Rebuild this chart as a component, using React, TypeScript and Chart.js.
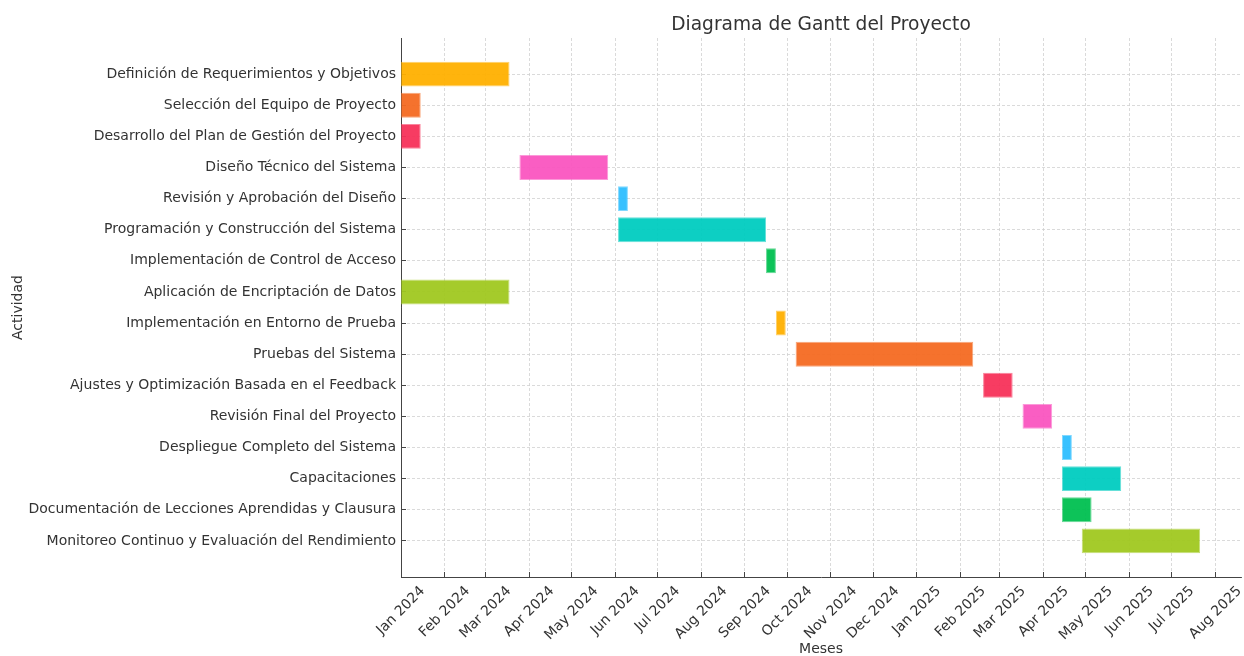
import React, { useEffect, useRef } from 'react';
import { Chart, registerables } from 'chart.js';

Chart.register(...registerables);

const chartTitle = 'Diagrama de Gantt del Proyecto';
const xTitle = 'Meses';
const yTitle = 'Actividad';

const activities = [
  'Definición de Requerimientos y Objetivos',
  'Selección del Equipo de Proyecto',
  'Desarrollo del Plan de Gestión del Proyecto',
  'Diseño Técnico del Sistema',
  'Revisión y Aprobación del Diseño',
  'Programación y Construcción del Sistema',
  'Implementación de Control de Acceso',
  'Aplicación de Encriptación de Datos',
  'Implementación en Entorno de Prueba',
  'Pruebas del Sistema',
  'Ajustes y Optimización Basada en el Feedback',
  'Revisión Final del Proyecto',
  'Despliegue Completo del Sistema',
  'Capacitaciones',
  'Documentación de Lecciones Aprendidas y Clausura',
  'Monitoreo Continuo y Evaluación del Rendimiento',
];

const startDates = [
  '2024-01-01', '2024-01-01', '2024-01-01', '2024-03-25',
  '2024-06-03', '2024-06-03', '2024-09-16', '2024-01-01',
  '2024-09-23', '2024-10-07', '2025-02-17', '2025-03-17',
  '2025-04-14', '2025-04-14', '2025-04-14', '2025-04-28',
];

const endDates = [
  '2024-03-18', '2024-01-15', '2024-01-15', '2024-05-27',
  '2024-06-10', '2024-09-16', '2024-09-23', '2024-03-18',
  '2024-09-30', '2025-02-10', '2025-03-10', '2025-04-07',
  '2025-04-21', '2025-05-26', '2025-05-05', '2025-07-21',
];

const barColors = [
  '#FFB000', '#F46A22', '#F7325A', '#FA55C0', '#2DBEFF', '#00CCC0', '#00C050', '#A0C820',
  '#FFB000', '#F46A22', '#F7325A', '#FA55C0', '#2DBEFF', '#00CCC0', '#00C050', '#A0C820',
];

const monthTicks = [
  '2024-01-01', '2024-02-01', '2024-03-01', '2024-04-01', '2024-05-01',
  '2024-06-01', '2024-07-01', '2024-08-01', '2024-09-01', '2024-10-01',
  '2024-11-01', '2024-12-01', '2025-01-01', '2025-02-01', '2025-03-01',
  '2025-04-01', '2025-05-01', '2025-06-01', '2025-07-01', '2025-08-01',
];

const monthNames = ['Jan', 'Feb', 'Mar', 'Apr', 'May', 'Jun', 'Jul', 'Aug', 'Sep', 'Oct', 'Nov', 'Dec'];

const xStart = '2024-01-01';
const xEnd = '2025-08-19';

const FONT = "'DejaVu Sans', sans-serif";
const TEXT = '#333';

const toMs = (s: string) => {
  const [y, m, d] = s.split('-').map(Number);
  return Date.UTC(y, m - 1, d);
};

const fmtMonth = (v: number) => {
  const d = new Date(v);
  return monthNames[d.getUTCMonth()] + ' ' + d.getUTCFullYear();
};

function hexA(hex: string, a: number) {
  const n = parseInt(hex.slice(1), 16);
  return `rgba(${(n >> 16) & 255},${(n >> 8) & 255},${n & 255},${a})`;
}

// Title centred over the plot area, x title, and x tick labels rotated 45° about their centre
const textPlugin = {
  id: 'areaText',
  afterDraw(chart: any) {
    const { ctx, chartArea } = chart;
    const xScale = chart.scales.x;
    const cx = (chartArea.left + chartArea.right) / 2;
    ctx.save();
    ctx.fillStyle = TEXT;
    ctx.textAlign = 'center';
    ctx.textBaseline = 'middle';
    ctx.font = `18.6px ${FONT}`;
    ctx.fillText(chartTitle, cx, 25);

    ctx.font = `14px ${FONT}`;
    ctx.fillText(xTitle, cx, 649);

    const h = 14;
    const c = Math.SQRT1_2;
    const top = chartArea.bottom + 7;
    xScale.ticks.forEach((t: any) => {
      const label = fmtMonth(t.value);
      const w = ctx.measureText(label).width;
      const box = (w + h) * c;
      const x = xScale.getPixelForValue(t.value);
      const y = top + box / 2;
      ctx.save();
      ctx.translate(x, y);
      ctx.rotate(-Math.PI / 4);
      ctx.fillText(label, 0, 0);
      ctx.restore();
    });
    ctx.restore();
  },
};

export default function App() {
  const ref = useRef<HTMLCanvasElement | null>(null);

  useEffect(() => {
    if (!ref.current) return;
    Chart.defaults.font.family = FONT;
    const chart = new Chart(ref.current, {
      type: 'bar',
      data: {
        datasets: [
          {
            data: activities.map((_, i) => ({ x: [toMs(startDates[i]), toMs(endDates[i])], y: i })) as any,
            backgroundColor: barColors.map((c) => hexA(c, 0.95)),
            borderColor: barColors.map((c) => hexA(c, 0.6)),
            borderWidth: 1,
            borderSkipped: false,
            barPercentage: 0.8,
            categoryPercentage: 1.0,
          },
        ],
      },
      plugins: [textPlugin],
      options: {
        indexAxis: 'y',
        responsive: false,
        animation: false,
        layout: { padding: { left: 0, right: 3, top: 38, bottom: 0 } },
        plugins: {
          legend: { display: false },
          tooltip: { enabled: false },
          title: { display: false },
        },
        scales: {
          x: {
            type: 'linear',
            position: 'bottom',
            min: toMs(xStart),
            max: toMs(xEnd),
            afterBuildTicks: (scale: any) => {
              scale.ticks = monthTicks.map((m) => ({ value: toMs(m) }));
            },
            afterFit: (scale: any) => {
              scale.height = 79;
            },
            ticks: {
              display: false,
              autoSkip: false,
              callback: (v: any) => fmtMonth(Number(v)),
            },
            grid: {
              color: '#d0d0d0',
              lineWidth: 0.8,
              tickLength: -5,
              tickColor: '#444',
              tickWidth: 1,
            },
            border: { display: true, color: '#444', width: 1, dash: [3, 2] },
            title: { display: false },
          },
          y: {
            type: 'linear',
            reverse: true,
            offset: false,
            min: -1.16,
            max: 16.16,
            afterBuildTicks: (scale: any) => {
              scale.ticks = activities.map((_, i) => ({ value: i }));
            },
            afterFit: (scale: any) => {
              scale.width = 401;
            },
            ticks: {
              autoSkip: false,
              color: TEXT,
              font: { size: 14 },
              padding: 10,
              callback: (v: any) => activities[Number(v)] ?? '',
            },
            grid: {
              offset: false,
              color: '#d0d0d0',
              lineWidth: 0.8,
              tickLength: -5,
              tickColor: '#444',
              tickWidth: 1,
            },
            border: { display: true, color: '#444', width: 1, dash: [3, 2] },
            title: {
              display: true,
              text: yTitle,
              color: TEXT,
              font: { size: 14 },
              padding: { top: 10, bottom: 0 },
            },
          },
        },
      } as any,
    });
    return () => chart.destroy();
  }, []);

  return (
    <div style={{ position: 'fixed', left: 0, top: 0, width: 1244, height: 656, background: '#fff' }}>
      <canvas ref={ref} width={1244} height={656} style={{ width: 1244, height: 656 }} />
    </div>
  );
}
